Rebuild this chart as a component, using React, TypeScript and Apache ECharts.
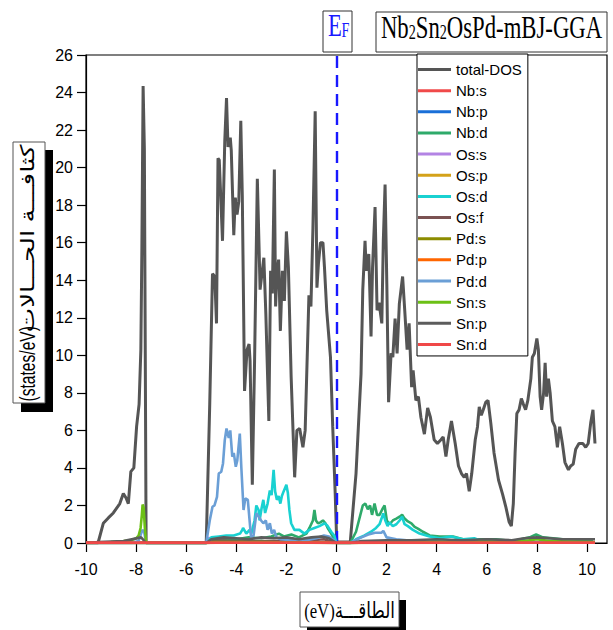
import React, { useEffect, useRef } from "react";
import * as echarts from "echarts";

// ---------- data (energy in eV, DOS in states/eV) ----------
const xTicks = [-10, -8, -6, -4, -2, 0, 2, 4, 6, 8, 10];

const seriesNames = [
  "total-DOS", "Nb:s", "Nb:p", "Nb:d", "Os:s", "Os:p", "Os:d", "Os:f",
  "Pd:s", "Pd:p", "Pd:d", "Sn:s", "Sn:p", "Sn:d",
];

const seriesColors = [
  "#555555", "#f04a4a", "#1a6fd8", "#2eaa6a", "#b384e4", "#d4a21a", "#19d1d1", "#7b5252",
  "#8c8c00", "#ff6600", "#6b9fd6", "#6cc015", "#5c5c5c", "#f04848",
];

const totalDOS = [
  [-10, 0], [-9.52, 0], [-9.31, 1.05], [-9.1, 1.35], [-8.91, 1.6], [-8.65, 2.1], [-8.51, 2.64], [-8.4, 2.4],
  [-8.31, 2.1], [-8.21, 3.8], [-8.09, 4.0], [-7.98, 6.2], [-7.88, 7.4], [-7.81, 10.3], [-7.77, 15.6],
  [-7.72, 24.35], [-7.67, 21], [-7.6, 0], [-5.2, 0], [-5.06, 7.4], [-4.95, 14.35], [-4.86, 14.2],
  [-4.79, 11.7], [-4.73, 20.5], [-4.68, 20.4], [-4.55, 16.1], [-4.46, 21.4], [-4.39, 23.7], [-4.33, 21.1],
  [-4.24, 21.6], [-4.2, 20.9], [-4.1, 16.4], [-4.04, 18.4], [-3.97, 17.5], [-3.9, 18.2], [-3.82, 22.5],
  [-3.76, 18.5], [-3.67, 8.1], [-3.57, 10.3], [-3.49, 10.6], [-3.45, 9.7], [-3.36, 3.1], [-3.27, 9.7],
  [-3.16, 19.4], [-3.09, 15.7], [-3.05, 13.5], [-2.98, 14.3], [-2.9, 15.2], [-2.82, 12.2], [-2.7, 6.5],
  [-2.63, 14.5], [-2.56, 13.3], [-2.48, 19.9], [-2.43, 12.6], [-2.38, 14.3], [-2.31, 15.1], [-2.24, 11.3],
  [-2.16, 14.5], [-2.08, 12.9], [-2.0, 16.6], [-1.92, 14.7], [-1.81, 8.85], [-1.67, 3.5], [-1.58, 6.0],
  [-1.47, 6.1], [-1.34, 5.1], [-1.25, 6.0], [-1.1, 13.2], [-1.02, 12.6], [-0.94, 16.8], [-0.85, 23.0],
  [-0.78, 13.6], [-0.72, 14.9], [-0.64, 16.0], [-0.54, 16.0], [-0.48, 14.7], [-0.39, 12.4], [-0.24, 9.9],
  [-0.15, 6.2], [-0.05, 2.6], [0.01, 0.05], [0.55, 0.05], [0.78, 3.7], [0.98, 9.0], [1.05, 13.5],
  [1.14, 16.1], [1.19, 14.5], [1.29, 15.4], [1.38, 11.0], [1.44, 14.7], [1.54, 17.9], [1.62, 12.4],
  [1.7, 12.8], [1.81, 11.7], [1.87, 16.1], [1.94, 19.1], [2.01, 13.8], [2.08, 7.5], [2.18, 10.1],
  [2.25, 9.9], [2.34, 11.95], [2.42, 10.1], [2.51, 12.75], [2.64, 14.2], [2.72, 12.5], [2.82, 10.3],
  [2.9, 11.7], [3.0, 8.3], [3.06, 9.2], [3.17, 7.6], [3.27, 7.8], [3.37, 6.7], [3.51, 5.8], [3.64, 7.2],
  [3.75, 6.7], [3.9, 5.5], [4.03, 5.3], [4.17, 5.5], [4.26, 5.65], [4.37, 4.6], [4.46, 5.5], [4.59, 6.5],
  [4.74, 5.3], [4.87, 4.1], [4.99, 3.7], [5.1, 3.5], [5.19, 3.7], [5.3, 2.75], [5.4, 3.7], [5.54, 5.5],
  [5.63, 6.2], [5.7, 7.25], [5.78, 6.8], [5.86, 7.1], [5.96, 7.5], [6.05, 7.6], [6.16, 6.4], [6.29, 4.8],
  [6.47, 3.35], [6.63, 2.6], [6.76, 1.93], [6.89, 1.13], [6.98, 0.9], [7.06, 2.1], [7.13, 4.77],
  [7.2, 6.9], [7.29, 7.1], [7.38, 7.7], [7.46, 7.4], [7.55, 7.1], [7.64, 7.6], [7.76, 8.76], [7.82, 9.9],
  [7.9, 10.1], [8.0, 10.9], [8.06, 10.3], [8.13, 7.8], [8.19, 7.1], [8.27, 8.0], [8.33, 9.6], [8.39, 7.8],
  [8.46, 8.76], [8.53, 8.0], [8.62, 6.5], [8.72, 6.2], [8.82, 5.1], [8.91, 6.2], [9.02, 5.3], [9.12, 4.3],
  [9.26, 3.9], [9.35, 4.1], [9.45, 4.2], [9.55, 5.0], [9.68, 5.3], [9.84, 5.3], [9.95, 5.1], [10.05, 5.3],
  [10.15, 6.4], [10.24, 7.1], [10.32, 5.3],
];

const nbS = [[-10, 0.02], [10.32, 0.02]];
const nbP = [[-10, 0], [-5.2, 0], [-4.5, 0.05], [-2, 0.05], [0, 0], [0.55, 0], [2, 0.05], [10.32, 0.02]];
const nbD = [
  [-10, 0], [-5.2, 0], [-5.0, 0.1], [-4.5, 0.15], [-4.0, 0.2], [-3.5, 0.3], [-3.0, 0.25], [-2.6, 0.35],
  [-2.3, 0.5], [-2.1, 0.35], [-1.8, 0.45], [-1.5, 0.3], [-1.2, 0.5], [-1.08, 0.8], [-0.94, 1.2],
  [-0.88, 1.76], [-0.82, 1.2], [-0.74, 1.05], [-0.64, 1.1], [-0.54, 1.2], [-0.44, 1.05], [-0.35, 0.8],
  [-0.21, 0.5], [-0.09, 0.2], [0, 0], [0.55, 0], [0.78, 0.6], [1.05, 2.0], [1.15, 2.1], [1.25, 1.8],
  [1.34, 2.0], [1.42, 1.5], [1.52, 2.1], [1.62, 1.5], [1.72, 1.5], [1.83, 1.8], [1.92, 2.0], [2.01, 1.2],
  [2.12, 1.0], [2.25, 1.2], [2.39, 1.3], [2.52, 1.4], [2.62, 1.5], [2.72, 1.3], [2.85, 1.15], [2.99, 1.05],
  [3.12, 0.86], [3.25, 0.77], [3.45, 0.6], [3.72, 0.4], [4.12, 0.35], [4.65, 0.35], [5.05, 0.2],
  [5.71, 0.2], [6.37, 0.2], [7.04, 0.1], [7.71, 0.3], [7.97, 0.45], [8.24, 0.3], [9.04, 0.2], [10.24, 0.15],
];
const osS = [[-10, 0], [-5.2, 0], [-5.1, 0.3], [-5.0, 0.1], [-4, 0.05], [0, 0], [0.55, 0], [1.5, 0.05], [10.32, 0.02]];
const osP = [[-10, 0], [-5.2, 0], [-4.5, 0.05], [-1, 0.05], [0, 0], [0.55, 0], [2, 0.04], [10.32, 0.02]];
const osD = [
  [-10, 0], [-5.2, 0], [-5.0, 0.3], [-4.7, 0.35], [-4.4, 0.4], [-4.1, 0.4], [-3.85, 0.5], [-3.76, 0.7],
  [-3.73, 0.8], [-3.6, 0.5], [-3.47, 0.7], [-3.4, 0.5], [-3.27, 1.2], [-3.2, 2.0], [-3.11, 1.76],
  [-3.07, 1.2], [-2.99, 1.85], [-2.92, 2.3], [-2.85, 1.6], [-2.75, 2.1], [-2.66, 2.8], [-2.59, 2.55],
  [-2.51, 3.9], [-2.45, 2.75], [-2.38, 2.3], [-2.31, 2.5], [-2.24, 2.1], [-2.18, 2.5], [-2.11, 2.75],
  [-2.0, 3.1], [-1.94, 2.66], [-1.88, 1.76], [-1.81, 1.05], [-1.68, 0.7], [-1.48, 0.7], [-1.28, 0.5],
  [-1.08, 0.7], [-0.88, 0.8], [-0.68, 0.9], [-0.48, 1.05], [-0.35, 0.9], [-0.21, 0.6], [-0.09, 0.4],
  [0, 0], [0.55, 0], [0.78, 0.2], [1.12, 0.4], [1.38, 0.6], [1.58, 0.8], [1.72, 1.0], [1.87, 1.58],
  [1.95, 1.2], [2.04, 0.9], [2.11, 1.1], [2.25, 0.9], [2.39, 1.0], [2.52, 1.2], [2.62, 1.4], [2.72, 1.0],
  [2.85, 0.9], [3.05, 0.7], [3.32, 0.5], [3.72, 0.35], [4.12, 0.25], [4.58, 0.35], [5.05, 0.2],
  [5.5, 0.25], [5.71, 0.15], [6.37, 0.1], [7, 0.05], [10.32, 0.03],
];
const osF = [[-10, 0], [-5.2, 0], [-4.8, 0.15], [-4, 0.1], [-2, 0.12], [-1, 0.15], [-0.5, 0.2], [0, 0], [0.55, 0], [2, 0.05], [10.32, 0.02]];
const pdS = [[-10, 0], [-5.2, 0], [-4, 0.04], [0, 0], [0.55, 0], [10.32, 0.02]];
const pdP = [[-10, 0], [-5.2, 0], [-3, 0.04], [0, 0], [0.55, 0], [3, 0.03], [10.32, 0.02]];
const pdD = [
  [-10, 0], [-8.2, 0], [-7.9, 0.1], [-7.75, 0.7], [-7.68, 0.6], [-7.6, 0], [-5.2, 0], [-5.06, 1.2],
  [-4.95, 1.93], [-4.87, 2.0], [-4.77, 2.46], [-4.7, 3.7], [-4.6, 3.8], [-4.53, 4.24], [-4.46, 5.48],
  [-4.39, 6.1], [-4.3, 5.6], [-4.24, 6.0], [-4.16, 4.6], [-4.1, 4.8], [-4.02, 4.06], [-3.96, 4.4],
  [-3.86, 5.83], [-3.8, 4.06], [-3.71, 1.76], [-3.64, 2.38], [-3.54, 2.3], [-3.47, 1.22], [-3.41, 0.3],
  [-3.31, 0.4], [-3.2, 1.58], [-3.1, 1.4], [-3.01, 1.2], [-2.92, 1.05], [-2.82, 1.2], [-2.75, 0.7],
  [-2.66, 1.05], [-2.58, 0.5], [-2.49, 0.7], [-2.4, 0.3], [-2.23, 0.2], [-1.8, 0.15], [-1.2, 0.15],
  [-0.8, 0.25], [-0.5, 0.4], [-0.3, 0.35], [-0.1, 0.15], [0, 0], [0.55, 0], [0.68, 0.1], [1.0, 0.3],
  [1.27, 0.45], [1.54, 0.55], [1.8, 0.55], [1.87, 0.65], [2.0, 0.3], [2.39, 0.2], [2.8, 0.15], [4, 0.08],
  [6, 0.05], [10.32, 0.03],
];
const snS = [
  [-10, 0], [-9.5, 0.02], [-9, 0.05], [-8.5, 0.1], [-8.2, 0.15], [-8.0, 0.25], [-7.9, 0.4], [-7.82, 0.8],
  [-7.77, 1.5], [-7.74, 2.05], [-7.7, 1.9], [-7.65, 0.8], [-7.6, 0], [-5.2, 0], [-5, 0.05], [-3, 0.05],
  [0, 0], [0.55, 0], [2, 0.05], [7.5, 0.1], [8, 0.2], [8.5, 0.1], [10.32, 0.05],
];
const snP = [
  [-10, 0], [-9.5, 0.05], [-8.5, 0.1], [-7.8, 0.3], [-7.6, 0], [-5.2, 0], [-5.0, 0.2], [-4.5, 0.3],
  [-4.0, 0.25], [-3.5, 0.2], [-3.0, 0.3], [-2.5, 0.25], [-2.0, 0.3], [-1.5, 0.2], [-1.0, 0.3], [-0.6, 0.35],
  [-0.3, 0.25], [0, 0], [0.55, 0], [1, 0.1], [2, 0.15], [3, 0.15], [4, 0.2], [5, 0.15], [6, 0.2], [7, 0.15],
  [7.5, 0.25], [8, 0.3], [9, 0.2], [10.32, 0.2],
];
const snD = [[-10, 0.02], [10.32, 0.02]];

const seriesData = [totalDOS, nbS, nbP, nbD, osS, osP, osD, osF, pdS, pdP, pdD, snS, snP, snD];

const yLabelLatin = "(states/eV)";
const yLabelArabic = "كثافـــة الحـــالات";
const xLabelText = "(eV)الطاقـــة";
const titleText = "{a|Nb}{s|2}{a|Sn}{s|2}{a|OsPd-mBJ-GGA}";

export default function App() {
  const ref = useRef<HTMLDivElement>(null);

  useEffect(() => {
    document.body.style.margin = "0";
    if (!ref.current) return;
    const chart = echarts.init(ref.current, undefined, { renderer: "svg" });
    const sans = "'Liberation Sans', Arial, 'DejaVu Sans', sans-serif";
    const serif = "'Liberation Serif', 'Times New Roman', 'DejaVu Sans', serif";

    const series: any[] = seriesNames.map((name, i) => ({
      name,
      type: "line",
      data: seriesData[i],
      symbol: "none",
      showSymbol: false,
      color: seriesColors[i],
      lineStyle: { color: seriesColors[i], width: i === 0 ? 3 : 2.6 },
      z: 2 + i,
    }));
    series[series.length - 1].markLine = {
      silent: true,
      symbol: ["none", "none"],
      label: { show: false },
      lineStyle: { color: "#1818ff", width: 2.4, type: [12, 7] },
      data: [{ xAxis: 0 }],
    };

    chart.setOption({
      animation: false,
      backgroundColor: "#ffffff",
      grid: {
        left: 86, right: 6, top: 55, bottom: 87,
        show: true, borderColor: "#000", borderWidth: 1.2, backgroundColor: "transparent",
        containLabel: false,
      },
      legend: {
        orient: "vertical",
        left: 417,
        top: 54,
        data: seriesNames,
        selectedMode: false,
        icon: "rect",
        itemWidth: 33,
        itemHeight: 3,
        itemGap: 6.15,
        padding: [8, 6, 4, 1],
        borderColor: "#000",
        borderWidth: 1,
        backgroundColor: "#fff",
        textStyle: { fontSize: 15, fontFamily: sans, color: "#000", lineHeight: 15 },
      },
      xAxis: {
        type: "value",
        min: -10,
        max: 10.8,
        splitLine: { show: false },
        axisLine: { show: true, onZero: false, lineStyle: { color: "#000", width: 1.2 } },
        axisTick: { show: true, inside: false, length: 9, customValues: xTicks, lineStyle: { color: "#000", width: 1.2 } },
        axisLabel: { customValues: xTicks, fontSize: 16, fontFamily: sans, color: "#000", margin: 18 },
      },
      yAxis: {
        type: "value",
        min: 0,
        max: 26,
        interval: 2,
        splitLine: { show: false },
        axisLine: { show: true, onZero: false, lineStyle: { color: "#000", width: 1.2 } },
        axisTick: { show: true, inside: false, length: 9, lineStyle: { color: "#000", width: 1.2 } },
        axisLabel: { fontSize: 16, fontFamily: sans, color: "#000", margin: 13 },
      },
      graphic: [
        // E_F box
        { type: "rect", z: 10, shape: { x: 323, y: 11, width: 29, height: 41 }, style: { fill: "#fff", stroke: "#333", lineWidth: 1 } },
        { type: "text", z: 11, x: 335, y: 25, scaleX: 0.71, style: { text: "E", fontSize: 32, fontFamily: serif, fill: "#1818ff", align: "center", verticalAlign: "middle" } },
        { type: "text", z: 11, x: 345.5, y: 31, scaleX: 0.71, style: { text: "F", fontSize: 20, fontFamily: serif, fill: "#1818ff", align: "center", verticalAlign: "middle" } },
        // title box
        { type: "rect", z: 10, shape: { x: 376, y: 12, width: 231, height: 40 }, style: { fill: "#fff", stroke: "#333", lineWidth: 1 } },
        {
          type: "text", z: 11, x: 491.5, y: 25, scaleX: 0.71,
          style: {
            text: titleText, align: "center", verticalAlign: "middle", fill: "#000",
            rich: {
              a: { fontSize: 32, fontFamily: serif, lineHeight: 36, verticalAlign: "bottom", fill: "#000" },
              s: { fontSize: 20, fontFamily: serif, lineHeight: 16, verticalAlign: "bottom", fill: "#000" },
            },
          },
        },
        // y axis title with shadow
        { type: "rect", z: 10, shape: { x: 21, y: 150, width: 32, height: 262 }, style: { fill: "#000" } },
        { type: "rect", z: 10, shape: { x: 13, y: 142, width: 32, height: 261 }, style: { fill: "#fff", stroke: "#555", lineWidth: 1 } },
        {
          type: "group", z: 11, x: 28, y: 272.5, rotation: Math.PI / 2,
          children: [
            {
              type: "text", z: 11, x: -129, y: 0, scaleX: 0.71,
              style: { text: yLabelLatin, fontSize: 22, fontFamily: sans, fill: "#000", align: "left", verticalAlign: "middle" },
            },
            {
              type: "text", z: 11, x: 128, y: -1, scaleX: 1.38,
              style: { text: yLabelArabic, fontSize: 19, fontFamily: sans, fill: "#000", align: "right", verticalAlign: "middle" },
            },
          ],
        },
        // x axis title with shadow
        { type: "rect", z: 10, shape: { x: 307, y: 600, width: 99, height: 35 }, style: { fill: "#000" } },
        { type: "rect", z: 10, shape: { x: 300, y: 592, width: 99, height: 35 }, style: { fill: "#fff", stroke: "#555", lineWidth: 1 } },
        {
          type: "text", z: 11, x: 349.5, y: 611, scaleX: 0.76,
          style: { text: xLabelText, fontSize: 22, fontFamily: serif, fill: "#000", align: "center", verticalAlign: "middle" },
        },
      ],
      series,
    } as any);

    return () => chart.dispose();
  }, []);

  return <div ref={ref} style={{ width: 613, height: 630 }} />;
}
